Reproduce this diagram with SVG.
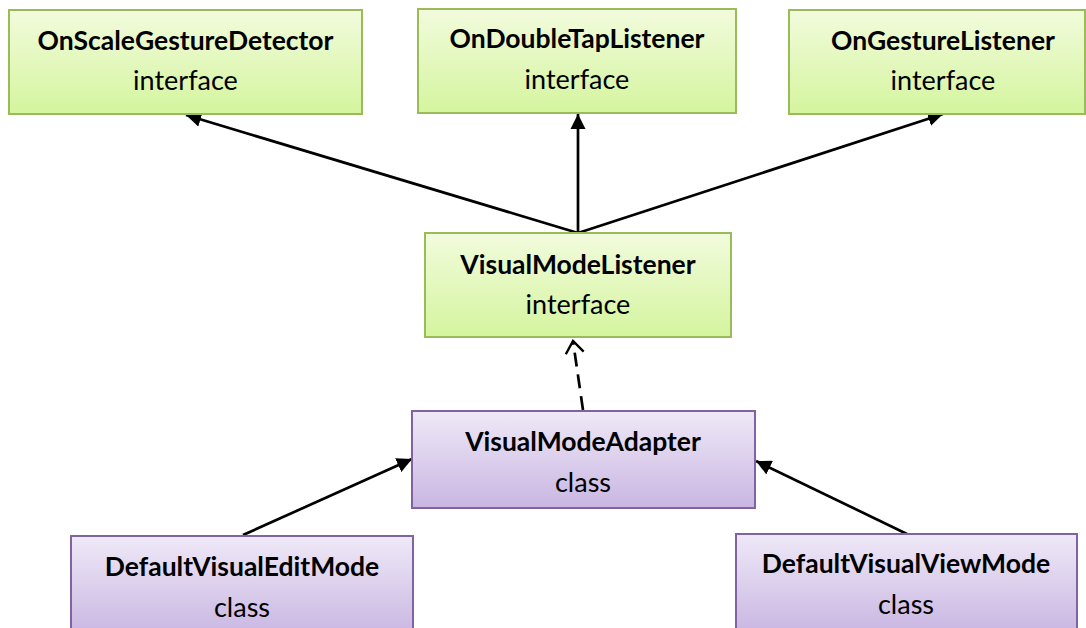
<svg xmlns="http://www.w3.org/2000/svg" width="1086" height="628" viewBox="0 0 1086 628">
  <style>
    .iface { fill: url(#gGreen); stroke: #9bbb59; stroke-width: 2; }
    .cls { fill: url(#gPurple); stroke: #8064a2; stroke-width: 2; }
    text { font-family: Lato, "Open Sans", "Liberation Sans", sans-serif; font-size: 27px; fill: #000; text-anchor: middle; }
    .t { font-weight: bold; font-size: 26.5px; }
    .edge { fill: none; stroke: #000; stroke-width: 2.7; }
    .dash { stroke-dasharray: 14 8; }
  </style>
  <defs>
    <linearGradient id="gGreen" x1="0" y1="0" x2="0" y2="1">
      <stop offset="0" stop-color="#f2fbdd"/>
      <stop offset="1" stop-color="#d4f59e"/>
    </linearGradient>
    <linearGradient id="gPurple" x1="0" y1="0" x2="0" y2="1">
      <stop offset="0" stop-color="#efe9f7"/>
      <stop offset="1" stop-color="#c9b6e2"/>
    </linearGradient>
    <marker id="solid" viewBox="0 0 10 10" refX="10" refY="5" markerWidth="5.6" markerHeight="5.6" orient="auto" markerUnits="strokeWidth">
      <path d="M0,0 L10,5 L0,10 z" fill="#000"/>
    </marker>
    <marker id="open" viewBox="0 0 10 14" refX="9" refY="7" markerWidth="5.6" markerHeight="7.8" orient="auto" markerUnits="strokeWidth">
      <path d="M1,1 L9,7 L1,13" fill="none" stroke="#000" stroke-width="1.6"/>
    </marker>
  </defs>

  <g id="connectors">
    <line class="edge" x1="578" y1="233" x2="186" y2="115" marker-end="url(#solid)"/>
    <line class="edge" x1="578" y1="233" x2="578" y2="114" marker-end="url(#solid)"/>
    <line class="edge" x1="578" y1="233" x2="943" y2="114" marker-end="url(#solid)"/>
    <line class="edge dash" x1="583" y1="410" x2="573" y2="341" marker-end="url(#open)"/>
    <line class="edge" x1="243" y1="535" x2="412" y2="459" marker-end="url(#solid)"/>
    <line class="edge" x1="907" y1="534" x2="756" y2="461" marker-end="url(#solid)"/>
  </g>

  <g id="OnScaleGestureDetector">
    <rect class="iface" x="9" y="10" width="353" height="104"/>
    <text class="t" x="185.5" y="50">OnScaleGestureDetector</text>
    <text x="185.5" y="90">interface</text>
  </g>
  <g id="OnDoubleTapListener">
    <rect class="iface" x="418" y="9" width="318" height="104"/>
    <text class="t" x="577" y="48">OnDoubleTapListener</text>
    <text x="577" y="89">interface</text>
  </g>
  <g id="OnGestureListener">
    <rect class="iface" x="789" y="10" width="296" height="104"/>
    <text class="t" x="943" y="50">OnGestureListener</text>
    <text x="943" y="90">interface</text>
  </g>
  <g id="VisualModeListener">
    <rect class="iface" x="425" y="233" width="306" height="104"/>
    <text class="t" x="578" y="274">VisualModeListener</text>
    <text x="578" y="314">interface</text>
  </g>
  <g id="VisualModeAdapter">
    <rect class="cls" x="412" y="411" width="343" height="97"/>
    <text class="t" x="583" y="451">VisualModeAdapter</text>
    <text x="583" y="492">class</text>
  </g>
  <g id="DefaultVisualEditMode">
    <rect class="cls" x="71" y="536" width="342" height="100"/>
    <text class="t" x="242" y="576">DefaultVisualEditMode</text>
    <text x="242" y="617">class</text>
  </g>
  <g id="DefaultVisualViewMode">
    <rect class="cls" x="736" y="534" width="341" height="100"/>
    <text class="t" x="906" y="573">DefaultVisualViewMode</text>
    <text x="906" y="614">class</text>
  </g>
</svg>
